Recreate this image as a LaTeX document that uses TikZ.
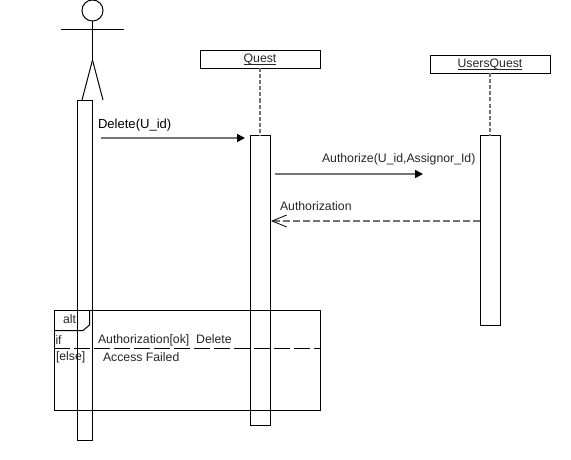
\documentclass[tikz,border=0pt]{standalone}
\usepackage{fontspec}
\setmainfont{Liberation Sans}
\usetikzlibrary{arrows.meta}
\newcommand{\ulabel}[1]{\setbox0=\hbox{#1}\rlap{\rule[-1.3pt]{\wd0}{0.5pt}}\box0}
\begin{document}
\begin{tikzpicture}[x=0.75pt,y=-0.75pt,line width=0.75pt]
\tikzstyle{every node}+=[inner sep=0pt,outer sep=0pt,font=\fontsize{9.2pt}{11pt}\selectfont,text=black!85]
\tikzstyle{objbox}=[draw,minimum width=90pt,minimum height=13.5pt]
\tikzstyle{actbar}=[draw,anchor=north west]
\tikzstyle{lifeline}=[black!55,line width=1.1pt,dash pattern=on 3pt off 1.5pt]
\tikzstyle{callmsg}=[black!55,line width=1.1pt,-{Triangle[length=6pt,width=6pt,black]}]
\tikzstyle{retmsg}=[black!55,line width=1.1pt,dash pattern=on 5pt off 2.5pt,-{Straight Barb[length=11pt,width=9pt,black,line width=0.6pt]}]
\useasboundingbox (0,0) rectangle (571,460);
% actor
\node [draw,circle,minimum size=15.8pt] (head) at (92.5,10.5) {};
\coordinate (armL) at (61,30);
\coordinate (armR) at (124,30);
\coordinate (hip) at (92.5,60);
\coordinate (footL) at (82,100);
\coordinate (footR) at (103,100);
\draw (head.south) -- (hip);
\draw (armL) -- (armR);
\draw (hip) -- (footL);
\draw (hip) -- (footR);
% objects
\node [objbox] (quest) at (260,59.5) {\ulabel{Quest}};
\node [objbox] (usersquest) at (490,64.5) {\ulabel{UsersQuest}};
% activation bars
\node [actbar,minimum width=11.25pt,minimum height=255pt] (actorbar) at (77.5,100.5) {};
\node [actbar,minimum width=15pt,minimum height=217.5pt] (questbar) at (250,135.5) {};
\node [actbar,minimum width=15pt,minimum height=142.5pt] (usersbar) at (480,135.5) {};
\draw [lifeline] (quest.south) -- (questbar.north);
\draw [lifeline] (usersquest.south) -- (usersbar.north);
% messages
\coordinate (delfrom) at (101,138);
\coordinate (delto) at (245,138);
\coordinate (authfrom) at (275,174);
\coordinate (authto) at (423,174);
\coordinate (retfrom) at (480,221);
\coordinate (retto) at (271,221);
\draw [callmsg] (delfrom) -- (delto);
\draw [callmsg] (authfrom) -- (authto);
\draw [retmsg] (retfrom) -- (retto);
\node [anchor=west,text=black,font=\fontsize{9.8pt}{11pt}\selectfont] (dellabel) at (98,125) {Delete(U\_id)};
\node [anchor=west] (authlabel) at (322,159.5) {Authorize(U\_id,Assignor\_Id)};
\node [anchor=west] (retlabel) at (280,206) {Authorization};
% alt frame
\node [draw,anchor=north west,minimum width=199.5pt,minimum height=75pt] (altframe) at (54,310.5) {};
\draw (54,330.5) -- (83,330.5) -- (89.5,325) -- (89.5,310.5);
\node (alttab) at (69.5,319) {alt};
\coordinate (splitL) at (54,348.5);
\coordinate (splitR) at (320,348.5);
\draw [dash pattern=on 12pt off 3pt] (splitL) -- (splitR);
\node [anchor=west] (iflabel) at (55.5,340) {if};
\node [anchor=west] (oklabel) at (98,340) {Authorization[ok]\ \ Delete};
\node [anchor=west] (elselabel) at (56,357) {[else]};
\node [anchor=west] (faillabel) at (103,357) {Access Failed};
\end{tikzpicture}
\end{document}
